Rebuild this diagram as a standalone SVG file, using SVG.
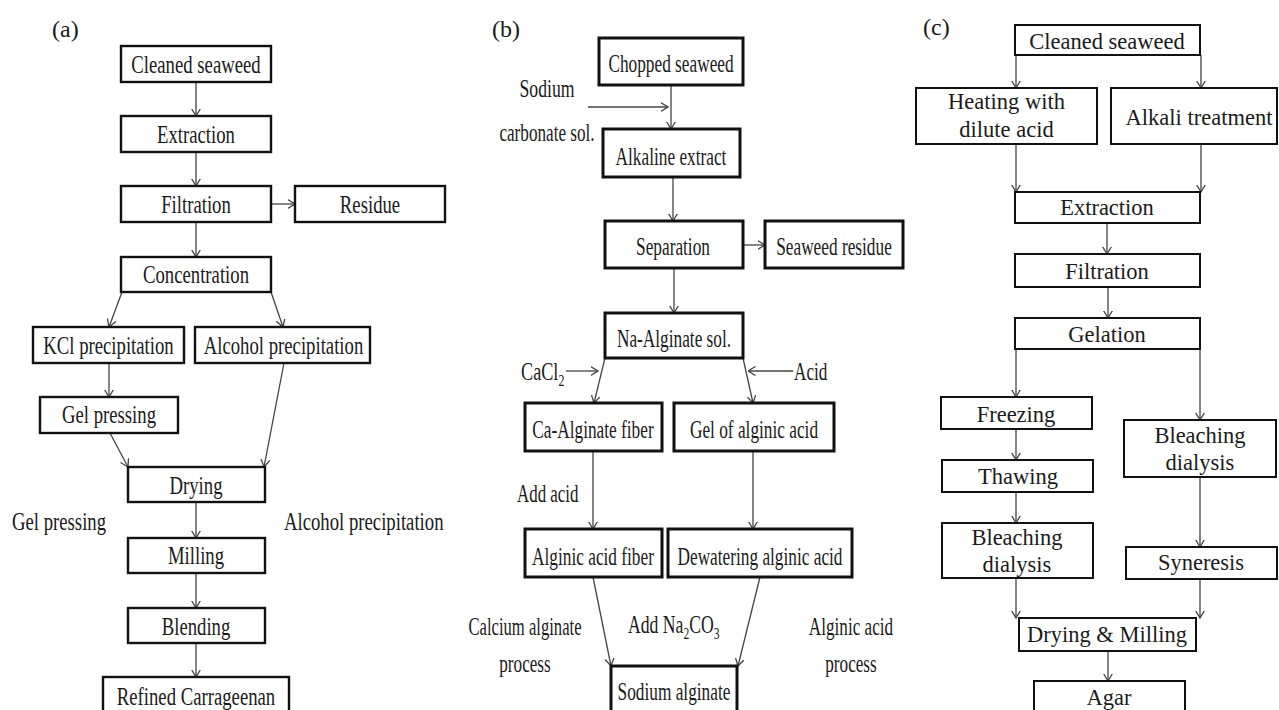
<svg xmlns="http://www.w3.org/2000/svg" width="1279" height="710" viewBox="0 0 1279 710">
<style>
text{font-family:"Liberation Serif","Times New Roman",serif;fill:#1a1a1a}
.ta,.tb{font-size:26px;text-anchor:middle}
.tc{font-size:22.5px;text-anchor:middle}
.ls{font-size:26px}
.pl{font-size:24px}
.ba{fill:#fff;stroke:#111;stroke-width:2.4}
.bb{fill:#fff;stroke:#111;stroke-width:3}
.bc{fill:#fff;stroke:#111;stroke-width:2}
.cn line{stroke:#444;stroke-width:1.3;fill:none}
</style>
<defs>
<marker id="ah" viewBox="0 0 8 10" refX="7.5" refY="5" markerWidth="8" markerHeight="10" markerUnits="userSpaceOnUse" orient="auto">
<path d="M0,0.5 L7.5,5 L0,9.5" fill="none" stroke="#444" stroke-width="1.3"/>
</marker>
</defs>
<rect x="0" y="0" width="1279" height="710" fill="#fff"/>

<g id="panel-labels">
<text class="pl" x="52" y="37">(a)</text>
<text class="pl" x="492" y="37">(b)</text>
<text class="pl" x="923" y="35">(c)</text>
</g>

<g id="connectors" class="cn">
<line x1="196" y1="82" x2="196" y2="116" marker-end="url(#ah)"/>
<line x1="196" y1="152" x2="196" y2="186" marker-end="url(#ah)"/>
<line x1="271" y1="204" x2="295" y2="204" marker-end="url(#ah)"/>
<line x1="196" y1="222" x2="196" y2="257" marker-end="url(#ah)"/>
<line x1="122" y1="292" x2="109" y2="327" marker-end="url(#ah)"/>
<line x1="271" y1="292" x2="283" y2="327" marker-end="url(#ah)"/>
<line x1="109" y1="363" x2="109" y2="397" marker-end="url(#ah)"/>
<line x1="110" y1="433" x2="128" y2="467" marker-end="url(#ah)"/>
<line x1="284" y1="363" x2="264" y2="467" marker-end="url(#ah)"/>
<line x1="196" y1="502" x2="196" y2="538" marker-end="url(#ah)"/>
<line x1="196" y1="573" x2="196" y2="608" marker-end="url(#ah)"/>
<line x1="196" y1="643" x2="196" y2="677" marker-end="url(#ah)"/>

<line x1="671" y1="85" x2="671" y2="129" marker-end="url(#ah)"/>
<line x1="588" y1="107" x2="668" y2="107" marker-end="url(#ah)"/>
<line x1="673" y1="177" x2="673" y2="221" marker-end="url(#ah)"/>
<line x1="743" y1="245" x2="765" y2="245" marker-end="url(#ah)"/>
<line x1="674" y1="268" x2="674" y2="313" marker-end="url(#ah)"/>
<line x1="566" y1="371" x2="598" y2="371" marker-end="url(#ah)"/>
<line x1="793" y1="371" x2="748" y2="371" marker-end="url(#ah)"/>
<line x1="605" y1="358" x2="594" y2="403" marker-end="url(#ah)"/>
<line x1="743" y1="358" x2="753" y2="403" marker-end="url(#ah)"/>
<line x1="593" y1="451" x2="593" y2="529" marker-end="url(#ah)"/>
<line x1="753" y1="451" x2="753" y2="529" marker-end="url(#ah)"/>
<line x1="593" y1="577" x2="611" y2="666" marker-end="url(#ah)"/>
<line x1="760" y1="577" x2="738" y2="666" marker-end="url(#ah)"/>

<line x1="1016" y1="55" x2="1016" y2="88" marker-end="url(#ah)"/>
<line x1="1201" y1="55" x2="1201" y2="88" marker-end="url(#ah)"/>
<line x1="1016" y1="144" x2="1016" y2="192" marker-end="url(#ah)"/>
<line x1="1201" y1="144" x2="1201" y2="192" marker-end="url(#ah)"/>
<line x1="1107" y1="223" x2="1107" y2="254" marker-end="url(#ah)"/>
<line x1="1108" y1="287" x2="1108" y2="318" marker-end="url(#ah)"/>
<line x1="1016" y1="349" x2="1016" y2="397" marker-end="url(#ah)"/>
<line x1="1200" y1="349" x2="1200" y2="420" marker-end="url(#ah)"/>
<line x1="1016" y1="429" x2="1016" y2="460" marker-end="url(#ah)"/>
<line x1="1016" y1="492" x2="1016" y2="523" marker-end="url(#ah)"/>
<line x1="1200" y1="477" x2="1200" y2="547" marker-end="url(#ah)"/>
<line x1="1016" y1="578" x2="1016" y2="618" marker-end="url(#ah)"/>
<line x1="1200" y1="579" x2="1200" y2="618" marker-end="url(#ah)"/>
<line x1="1108" y1="651" x2="1108" y2="681" marker-end="url(#ah)"/>
</g>

<!-- Panel (a) -->
<g id="a-cleaned"><rect class="ba" x="121" y="46" width="150" height="36"/><text class="ta" transform="translate(196,73) scale(0.72,1)">Cleaned seaweed</text></g>
<g id="a-extraction"><rect class="ba" x="121" y="116" width="150" height="36"/><text class="ta" transform="translate(196,143) scale(0.72,1)">Extraction</text></g>
<g id="a-filtration"><rect class="ba" x="121" y="186" width="150" height="36"/><text class="ta" transform="translate(196,213) scale(0.72,1)">Filtration</text></g>
<g id="a-residue"><rect class="ba" x="295" y="186" width="150" height="36"/><text class="ta" transform="translate(370,213) scale(0.72,1)">Residue</text></g>
<g id="a-concentration"><rect class="ba" x="121" y="257" width="150" height="35"/><text class="ta" transform="translate(196,283) scale(0.72,1)">Concentration</text></g>
<g id="a-kcl"><rect class="ba" x="33" y="327" width="151" height="36"/><text class="ta" transform="translate(108.5,354) scale(0.72,1)">KCl precipitation</text></g>
<g id="a-alcohol"><rect class="ba" x="195" y="327" width="175" height="36"/><text class="ta" transform="translate(283.5,354) scale(0.72,1)">Alcohol precipitation</text></g>
<g id="a-gelpressing"><rect class="ba" x="40" y="397" width="138" height="36"/><text class="ta" transform="translate(109,423) scale(0.72,1)">Gel pressing</text></g>
<g id="a-drying"><rect class="ba" x="128" y="467" width="137" height="35"/><text class="ta" transform="translate(196,494) scale(0.72,1)">Drying</text></g>
<g id="a-milling"><rect class="ba" x="128" y="538" width="137" height="35"/><text class="ta" transform="translate(196,564) scale(0.72,1)">Milling</text></g>
<g id="a-blending"><rect class="ba" x="128" y="608" width="137" height="35"/><text class="ta" transform="translate(196,635) scale(0.72,1)">Blending</text></g>
<g id="a-refined"><rect class="ba" x="103" y="677" width="186" height="45"/><text class="ta" transform="translate(196,705) scale(0.72,1)">Refined Carrageenan</text></g>
<g id="a-labels">
<text class="ls" transform="translate(12,530) scale(0.72,1)">Gel pressing</text>
<text class="ls" transform="translate(284,530) scale(0.72,1)">Alcohol precipitation</text>
</g>

<!-- Panel (b) -->
<g id="b-chopped"><rect class="bb" x="599" y="38" width="144" height="47"/><text class="tb" transform="translate(671,72) scale(0.665,1)">Chopped seaweed</text></g>
<g id="b-alkaline"><rect class="bb" x="603" y="129" width="137" height="48"/><text class="tb" transform="translate(671,165) scale(0.665,1)">Alkaline extract</text></g>
<g id="b-separation"><rect class="bb" x="605" y="221" width="138" height="47"/><text class="tb" transform="translate(673,255) scale(0.665,1)">Separation</text></g>
<g id="b-residue"><rect class="bb" x="765" y="221" width="138" height="47"/><text class="tb" transform="translate(834,255) scale(0.665,1)">Seaweed residue</text></g>
<g id="b-naalginate"><rect class="bb" x="605" y="313" width="138" height="45"/><text class="tb" transform="translate(674,347) scale(0.665,1)">Na-Alginate sol.</text></g>
<g id="b-caalginate"><rect class="bb" x="525" y="403" width="137" height="48"/><text class="tb" transform="translate(593,438) scale(0.665,1)">Ca-Alginate fiber</text></g>
<g id="b-gel"><rect class="bb" x="674" y="403" width="160" height="48"/><text class="tb" transform="translate(754,438) scale(0.665,1)">Gel of alginic acid</text></g>
<g id="b-fiber"><rect class="bb" x="525" y="529" width="137" height="48"/><text class="tb" transform="translate(593,565) scale(0.665,1)">Alginic acid fiber</text></g>
<g id="b-dewatering"><rect class="bb" x="668" y="529" width="184" height="48"/><text class="tb" transform="translate(760,565) scale(0.665,1)">Dewatering alginic acid</text></g>
<g id="b-sodium"><rect class="bb" x="611" y="666" width="126" height="56"/><text class="tb" transform="translate(674,700) scale(0.665,1)">Sodium alginate</text></g>
<g id="b-labels">
<text class="tb" transform="translate(547,97) scale(0.68,1)">Sodium</text>
<text class="tb" transform="translate(547,141) scale(0.66,1)">carbonate sol.</text>
<text class="ls" transform="translate(521,380) scale(0.7,1)">CaCl<tspan font-size="17" dy="6">2</tspan></text>
<text class="ls" transform="translate(794,380) scale(0.66,1)">Acid</text>
<text class="ls" transform="translate(517,502) scale(0.65,1)">Add acid</text>
<text class="tb" transform="translate(525,635) scale(0.64,1)">Calcium alginate</text>
<text class="tb" transform="translate(525,672) scale(0.66,1)">process</text>
<text class="ls" transform="translate(628,633) scale(0.68,1)">Add Na<tspan font-size="17" dy="6">2</tspan><tspan dy="-6">CO</tspan><tspan font-size="17" dy="6">3</tspan></text>
<text class="tb" transform="translate(851,635) scale(0.66,1)">Alginic acid</text>
<text class="tb" transform="translate(851,672) scale(0.66,1)">process</text>
</g>

<!-- Panel (c) -->
<g id="c-cleaned"><rect class="bc" x="1015" y="25" width="185" height="30"/><text class="tc" x="1107" y="49">Cleaned seaweed</text></g>
<g id="c-heating"><rect class="bc" x="916" y="88" width="181" height="56"/><text class="tc" x="1006.5" y="109">Heating with</text><text class="tc" x="1006.5" y="137">dilute acid</text></g>
<g id="c-alkali"><rect class="bc" x="1111" y="88" width="166" height="56"/><text class="tc" x="1199" y="125">Alkali treatment</text></g>
<g id="c-extraction"><rect class="bc" x="1015" y="192" width="185" height="31"/><text class="tc" x="1107" y="215">Extraction</text></g>
<g id="c-filtration"><rect class="bc" x="1015" y="254" width="185" height="33"/><text class="tc" x="1107" y="279">Filtration</text></g>
<g id="c-gelation"><rect class="bc" x="1015" y="318" width="185" height="31"/><text class="tc" x="1107" y="342">Gelation</text></g>
<g id="c-freezing"><rect class="bc" x="941" y="397" width="151" height="32"/><text class="tc" x="1016" y="422">Freezing</text></g>
<g id="c-bleaching-r"><rect class="bc" x="1124" y="420" width="152" height="57"/><text class="tc" x="1200" y="443">Bleaching</text><text class="tc" x="1200" y="470">dialysis</text></g>
<g id="c-thawing"><rect class="bc" x="942" y="460" width="151" height="32"/><text class="tc" x="1018" y="484">Thawing</text></g>
<g id="c-bleaching-l"><rect class="bc" x="942" y="523" width="151" height="55"/><text class="tc" x="1017" y="545">Bleaching</text><text class="tc" x="1017" y="572">dialysis</text></g>
<g id="c-syneresis"><rect class="bc" x="1126" y="547" width="151" height="32"/><text class="tc" x="1201" y="570">Syneresis</text></g>
<g id="c-drying"><rect class="bc" x="1019" y="618" width="177" height="33"/><text class="tc" x="1107" y="642">Drying &amp; Milling</text></g>
<g id="c-agar"><rect class="bc" x="1034" y="681" width="151" height="40"/><text class="tc" x="1109" y="705">Agar</text></g>
</svg>
